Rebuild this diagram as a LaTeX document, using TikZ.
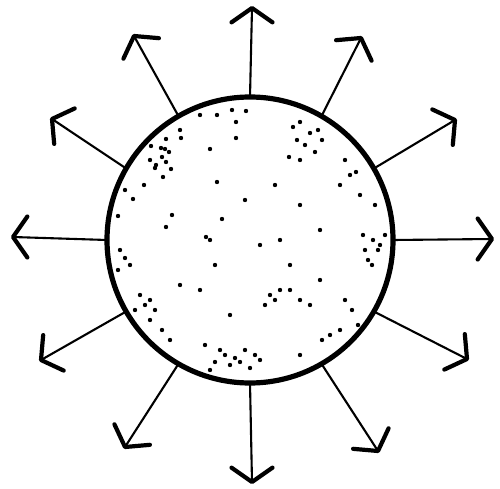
\documentclass[tikz,border=0pt]{standalone}
\begin{document}
\begin{tikzpicture}[x=1pt,y=-1pt,
  shaft/.style={line width=2.1pt,line cap=round},
  barb/.style={line width=4.2pt,line cap=round,line join=round},
  ball/.style={circle,draw,line width=5.2pt,minimum size=286pt,inner sep=0pt,outer sep=0pt},
  stip/.style={fill=black}]
\useasboundingbox (0,0) rectangle (500,489);
\node[ball] (c) at (250,240) {};
% tips
\coordinate (t0) at (492,239);
\coordinate (t30) at (455,120);
\coordinate (t60) at (361,38);
\coordinate (t90) at (252,8);
\coordinate (t120) at (134,36);
\coordinate (t150) at (52,119);
\coordinate (t180) at (13,237);
\coordinate (t210) at (41,360);
\coordinate (t240) at (125,447);
\coordinate (t270) at (252,482);
\coordinate (t300) at (378,451);
\coordinate (t330) at (467,359);
\foreach \a in {0,30,60,90,120,150,180,210,240,270,300,330}{
  \draw[shaft] (c.\a) -- (t\a);
  \draw[barb] (t\a) ++({-\a+180-55}:25) -- (t\a) -- ++({-\a+180+55}:25);
}
% stippling
\foreach \p in {
 (200,115),(217,115),(232,110),(246,111),(236,122),(180,130),(181,138),(236,138),(166,139),
 (151,146),(161,148),(165,149),(169,152),(210,149),(162,157),(150,160),(166,162),(156,165),
 (155,168),(171,169),(163,177),(217,182),(144,185),(125,190),(133,199),(172,215),(222,219),
 (118,216),(166,227),(206,237),
 (293,127),(300,122),(310,133),(318,130),(322,140),(297,140),(305,145),(289,157),(300,160),(315,152),
 (345,160),(350,175),(356,172),(340,185),(360,195),(375,205),(373,240),(378,250),(368,260),
 (372,265),(380,245),(363,235),(385,235),(365,250),
 (345,300),(352,310),(340,330),(330,335),(322,340),(358,325),(310,305),(300,300),(320,280),
 (290,290),(270,295),(265,305),(275,300),(280,290),
 (220,350),(225,355),(235,358),(230,365),(240,362),(245,350),(250,368),(215,362),(260,360),
 (255,355),(205,345),(210,370),
 (120,250),(125,258),(130,265),(118,270),(140,295),(150,300),(145,305),(155,310),(135,310),
 (162,330),(170,340),(150,320),
 (210,240),(260,245),(290,265),(300,205),(280,240),(320,230),(245,200),(200,290),(300,355),
 (180,285),(215,265),(230,315),(275,185)}
  \fill[stip] \p circle (2.2);
\end{tikzpicture}
\end{document}
